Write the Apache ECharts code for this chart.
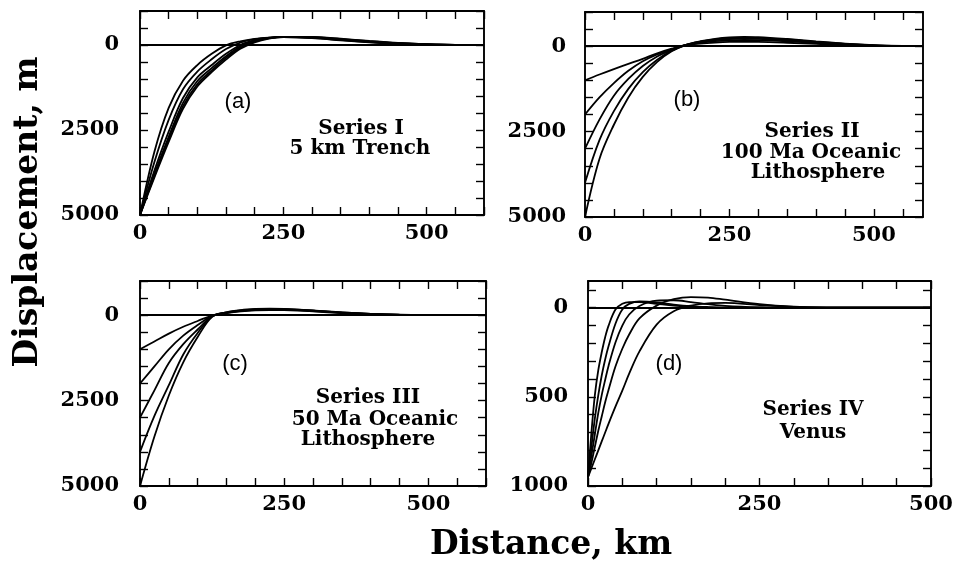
<!DOCTYPE html>
<html><head><meta charset="utf-8">
<script src="https://cdn.jsdelivr.net/npm/echarts@6/dist/echarts.min.js"></script>
<style>html,body{margin:0;padding:0;background:#fff}#c{width:956px;height:562px}</style>
</head><body><div id="c"></div>
<script>
// ---------- Data ----------
// Panel (a) Series I, 5 km Trench
const xA = [0,25,50,75,100,125,150,175,200,225,250,300,350,400,450,500,550,600];
const a1 = [5000,3150,1850,1050,590,260,10,-110,-180,-215,-230,-200,-140,-80,-35,-10,0,0];
const a2 = [5000,3450,2200,1300,780,420,120,-70,-170,-215,-235,-210,-150,-85,-40,-12,0,0];
const a3 = [5000,3700,2550,1560,950,590,260,0,-140,-210,-240,-220,-160,-95,-45,-15,0,0];
const a4 = [5000,3800,2700,1700,1060,680,330,40,-120,-205,-240,-225,-165,-100,-50,-18,-3,0];
const a5 = [5000,3850,2780,1800,1150,750,380,80,-100,-200,-240,-230,-175,-110,-55,-22,-5,0];
const a6 = [5000,3900,2850,1880,1220,800,430,110,-80,-190,-240,-235,-185,-120,-60,-25,-6,0];
// Panel (b) Series II, 100 Ma Oceanic Lithosphere
const xB = [0,25,50,75,100,125,150,175,200,225,250,275,300,350,400,450,500,550,585];
const b1 = [1000,830,670,520,370,210,75,-30,-75,-105,-125,-130,-127,-100,-65,-35,-14,-3,0];
const b2 = [2000,1500,1080,720,440,240,90,-35,-100,-145,-170,-180,-175,-140,-90,-48,-18,-4,0];
const b3 = [3000,2150,1450,960,580,300,110,-40,-120,-180,-210,-222,-215,-172,-112,-60,-23,-5,0];
const b4 = [4000,2750,1900,1250,760,400,130,-40,-135,-200,-240,-252,-245,-195,-128,-68,-26,-6,0];
const b5 = [5000,3300,2300,1500,900,460,150,-40,-145,-215,-258,-272,-265,-210,-140,-75,-30,-6,0];
// Panel (c) Series III, 50 Ma Oceanic Lithosphere
const xC = [0,25,50,75,100,125,150,175,200,225,250,300,350,400,450,500,550,600];
const c1 = [1000,770,540,340,170,10,-60,-110,-140,-150,-145,-110,-62,-28,-8,0,0,0];
const c2 = [2000,1500,1000,600,290,20,-70,-125,-155,-165,-160,-122,-70,-32,-10,-2,0,0];
const c3 = [3000,2200,1400,850,420,30,-75,-135,-165,-175,-170,-130,-75,-35,-11,-2,0,0];
const c4 = [4000,2950,2050,1150,520,40,-80,-142,-172,-182,-176,-135,-78,-36,-12,-2,0,0];
const c5 = [5000,3550,2350,1380,640,50,-85,-150,-180,-190,-182,-140,-80,-38,-12,-2,0,0];
// Panel (d) Series IV, Venus
const xD = [0,5,10,15,20,25,30,40,50,60,75,100,125,150,175,200,250,300,350,400,450,500];
const d1 = [950,700,490,350,250,165,100,10,-22,-32,-32,-22,-12,-5,-2,0,0,0,0,0,0,0];
const d2 = [950,780,620,490,380,290,215,90,10,-22,-35,-30,-18,-9,-4,-1,0,0,0,0,0,0];
const d3 = [950,830,710,590,490,405,325,195,100,38,-10,-40,-42,-32,-20,-10,-2,0,0,0,0,0];
const d4 = [950,870,780,690,610,530,460,330,230,150,60,-12,-48,-60,-57,-45,-20,-6,-1,0,0,0];
const d5 = [950,900,850,800,750,700,650,555,465,370,245,95,20,-12,-25,-27,-15,-5,-1,0,0,0];

// Tick values / labels
const xTicks600 = [0,50,100,150,200,250,300,350,400,450,500,550,600];
const xTicksB = [0,50,100,150,200,250,300,350,400,450,500,550];
const xLabels600 = [0,250,500];
const xTicksD = [0,50,100,150,200,250,300,350,400,450,500];
const xLabelsD = [0,250,500];
const yTicks5000 = [-1000,-500,0,500,1000,1500,2000,2500,3000,3500,4000,4500,5000];
const yLabels5000 = [0,2500,5000];
const yTicksD = [-100,0,100,200,300,400,500,600,700,800,900,1000];
const yLabelsD = [0,500,1000];

// ---------- Chart ----------
const FONT = '"DejaVu Serif", serif';
const chart = echarts.init(document.getElementById('c'));

const grids = [
  {left:140, top:11, width:344, height:204},
  {left:585, top:12, width:338, height:205},
  {left:140, top:281, width:346, height:205},
  {left:588, top:281, width:343, height:205}
];
const panelX = [
  {max:600, ticks:xTicks600, labels:xLabels600},
  {max:585, ticks:xTicksB, labels:xLabels600},
  {max:600, ticks:xTicks600, labels:xLabels600},
  {max:500, ticks:xTicksD, labels:xLabelsD}
];
const panelY = [
  {min:-1000, max:5000, ticks:yTicks5000, labels:yLabels5000, margin:21},
  {min:-1000, max:5000, ticks:yTicks5000, labels:yLabels5000, margin:19},
  {min:-1000, max:5000, ticks:yTicks5000, labels:yLabels5000, margin:21},
  {min:-150, max:1000, ticks:yTicksD, labels:yLabelsD, margin:20}
];
const lineS = {color:'#000', width:1.9};
const tickS = {color:'#000', width:1.4};
const labelS = {fontFamily:FONT, fontWeight:'bold', fontSize:21, color:'#000', formatter:(v)=>String(v)};

const xAxis = [], yAxis = [];
panelX.forEach((p,gi)=>{
  xAxis.push({type:'value', gridIndex:gi, min:0, max:p.max, position:'bottom',
    axisLine:{show:true, onZero:false, lineStyle:lineS},
    axisTick:{show:true, inside:true, length:8, customValues:p.ticks, lineStyle:tickS},
    axisLabel:Object.assign({customValues:p.labels, margin:8}, labelS),
    splitLine:{show:false}});
  xAxis.push({type:'value', gridIndex:gi, min:0, max:p.max, position:'top',
    axisLine:{show:true, onZero:false, lineStyle:lineS},
    axisTick:{show:true, inside:true, length:8, customValues:p.ticks, lineStyle:tickS},
    axisLabel:{show:false}, splitLine:{show:false}});
});
panelY.forEach((p,gi)=>{
  yAxis.push({type:'value', gridIndex:gi, min:p.min, max:p.max, inverse:true, position:'left',
    axisLine:{show:true, onZero:false, lineStyle:lineS},
    axisTick:{show:true, inside:true, length:8, customValues:p.ticks, lineStyle:tickS},
    axisLabel:Object.assign({customValues:p.labels, margin:p.margin}, labelS),
    splitLine:{show:false}});
  yAxis.push({type:'value', gridIndex:gi, min:p.min, max:p.max, inverse:true, position:'right',
    axisLine:{show:true, onZero:false, lineStyle:lineS},
    axisTick:{show:true, inside:true, length:8, customValues:p.ticks, lineStyle:tickS},
    axisLabel:{show:false}, splitLine:{show:false}});
});

const panels = [
  {xs:xA, curves:[a1,a2,a3,a4,a5,a6]},
  {xs:xB, curves:[b1,b2,b3,b4,b5]},
  {xs:xC, curves:[c1,c2,c3,c4,c5]},
  {xs:xD, curves:[d1,d2,d3,d4,d5]}
];
const series = [];
panels.forEach((p,gi)=>{
  p.curves.forEach((ys,ci)=>{
    const s = {type:'line', xAxisIndex:gi*2, yAxisIndex:gi*2,
      data:p.xs.map((x,i)=>[x,ys[i]]), showSymbol:false, smooth:0.35,
      lineStyle:{color:'#000', width:1.8}, silent:true, clip:true};
    if (ci===0) s.markLine = {silent:true, symbol:'none', label:{show:false},
      lineStyle:{color:'#000', width:1.8, type:'solid'}, data:[{yAxis:0}]};
    series.push(s);
  });
});

const txt = (x,y,t,font,extra) => Object.assign({type:'text', x:x, y:y,
  style:{text:t, font:font, fill:'#000', align:'center', verticalAlign:'middle',
         textAlign:'center', textVerticalAlign:'middle'}}, extra||{});
const SF = 'bold 20px "DejaVu Serif"';
const PF = '22px "Liberation Sans"';
const graphic = [
  txt(28,212,'Displacement, m','bold 33px "DejaVu Serif"',{rotation:Math.PI/2}),
  txt(551,545,'Distance, km','bold 33px "DejaVu Serif"'),
  txt(238,102,'(a)',PF), txt(687,100,'(b)',PF), txt(235,364,'(c)',PF), txt(669,364,'(d)',PF),
  txt(361,129,'Series I',SF), txt(360,149,'5 km Trench',SF),
  txt(812,132,'Series II',SF), txt(811,153,'100 Ma Oceanic',SF), txt(818,173,'Lithosphere',SF),
  txt(368,398,'Series III',SF), txt(375,420,'50 Ma Oceanic',SF), txt(368,440,'Lithosphere',SF),
  txt(813,410,'Series IV',SF), txt(813,433,'Venus',SF)
];

chart.setOption({animation:false, backgroundColor:'#fff', grid:grids, xAxis, yAxis, series, graphic});
</script></body></html>
